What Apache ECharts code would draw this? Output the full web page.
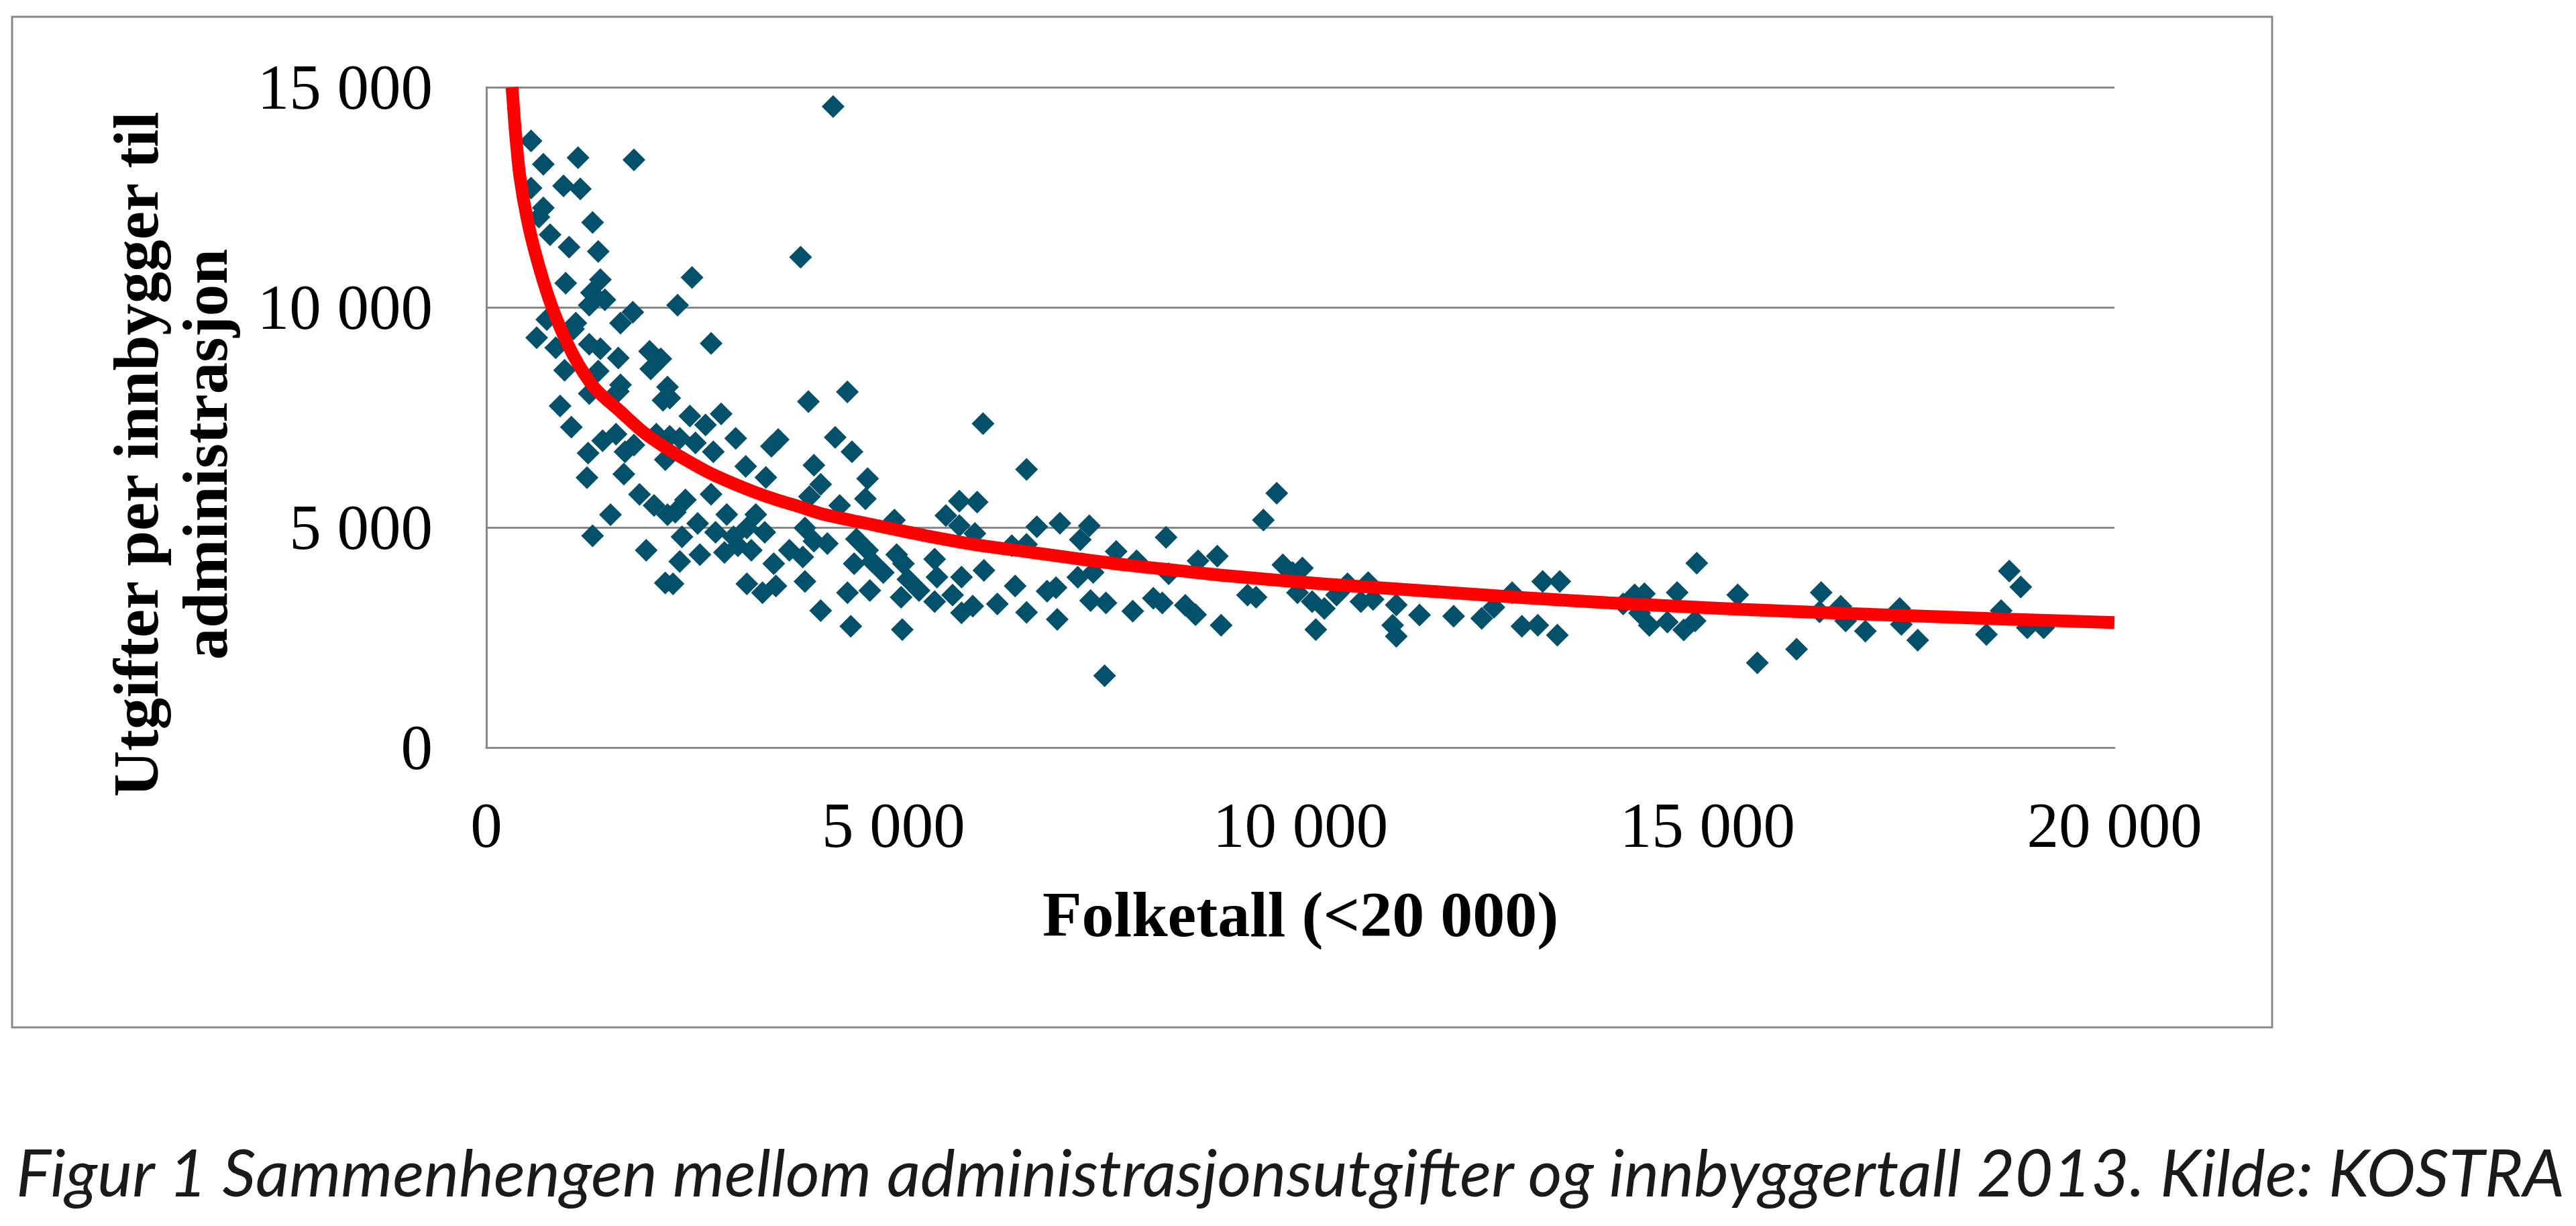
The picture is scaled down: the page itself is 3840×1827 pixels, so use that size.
<!DOCTYPE html>
<html>
<head>
<meta charset="utf-8">
<script src="https://cdn.jsdelivr.net/npm/echarts@6/dist/echarts.min.js"></script>
<style>
html,body{margin:0;padding:0;background:#fff;}
#chart{width:3840px;height:1827px;}
</style>
</head>
<body>
<div id="chart"></div>
<script>
// Folketall (population) per municipality
const population = [
549,700,1126,1813,549,948,1154,700,646,1305,783,1016,1374,3860,2527,975,1401,1291,1456,1264,2349,1799,1648,1099,618,852,1264,1401,2761,1621,2005,2143,961,1374,2019,1648,2225,1071,742,4260,
906,1264,1621,2170,2253,3956,1044,1428,1593,1250,1703,1813,2088,2253,2500,2884,2692,1236,1689,2198,1882,2060,2225,1525,1305,1964,2198,
4435,6101,6636,6762,7045,7407,7296,8350,7737,7988,8743,8979,7265,7454,8382,6636,6888,6998,7013,7422,7611,7941,8193,8303,8586,8712,9026,7595,6636,
3063,3585,3502,4285,4491,2788,2568,2376,3186,3433,4024,4107,3969,4683,4656,4340,2445,2760,5810,6029,5013,5645,5810,6002,6455,
2321,2596,2953,3310,3200,3420,2403,2815,3035,2925,3255,2623,2376,3090,3914,4189,4024,3722,3887,3530,3914,3200,3392,3557,2293,
4546,4683,4518,4738,5040,5123,4876,5178,5315,5095,4436,4711,4107,4477,5109,5507,5535,5837,6112,5507,5727,5837,5975,6277,6496,
9709,9545,9784,10024,9904,9350,9455,9964,10144,10294,10189,10444,10579,10833,10743,10893,11178,11133,11178,11463,11882,12227,12377,12601,12976,13186,12721,12916,13156,
14869,14106,14226,14628,14286,14508,14709,14849,14166,15372,15613,16095,16397,16377,16638,16698,16940,17362,17382,17583,18427,18608,18708,18849,18929,19130,13965
];
// Utgifter per innbygger til administrasjon
const costPerCapita = [
13780,13250,13400,13350,12710,12760,12690,12260,12050,11930,11650,11370,11270,11140,10680,10550,10630,10330,10170,10050,10050,9890,9640,9640,9310,9080,9160,9060,9180,8850,9000,8830,8570,8550,8600,8240,8190,9510,9720,14560,
7760,8040,8090,7890,7940,7860,7280,6970,7120,6690,6720,6870,7120,7070,7530,7580,7330,6130,6210,6540,5750,5500,5290,5290,4810,4480,3740,
8080,7360,6320,5015,5095,5040,4720,4775,4456,4240,4240,4350,3870,3977,3950,3070,3550,3630,2910,3337,3284,3097,3390,3284,3230,3017,2777,1632,4616,
7023,6997,6845,7048,6718,6718,6921,7023,6388,6134,6413,5981,5702,6108,5651,5499,5626,5753,5600,5575,5168,5270,5041,4864,4584,
5346,5092,5295,5295,4990,4889,4787,4889,4787,4432,4482,4381,4228,4584,4990,4635,4686,4482,4330,4178,3771,3720,3517,3669,3720,
4736,4482,4178,4228,4381,4178,3974,3822,3568,3415,3517,3568,3110,2755,2678,4279,3873,3873,4025,3314,3466,3060,3212,3263,3669,
5778,5168,4152,4076,3975,3466,3415,3517,3314,3161,2679,3466,3720,3746,3314,3365,3238,2780,2526,3009,2984,2933,3187,3517,3771,3771,2755,2780,2552,
4189,3468,3494,3520,2773,2850,2670,2876,3056,3468,1923,2232,3520,3082,3210,2876,2644,3159,2798,2438,2567,3108,4009,3648,2721,2721,3262
];
// Trend curve (power trendline)
const trendX = [316,357,412,508,646,824,1071,1330,1648,1923,2198,2472,2747,3022,3296,3571,3846,4120,4749,5378,6007,6636,7265,7894,8523,9058,10264,11463,12661,13780,15412,17020,18628,20000];
const trendY = [15000,13984,12968,11951,10935,9919,8903,8170,7632,7175,6819,6514,6235,6006,5803,5625,5472,5310,5060,4820,4610,4450,4290,4140,4015,3910,3720,3568,3415,3290,3140,3025,2920,2840];

const xTickLabels = ['0','5 000','10 000','15 000','20 000'];
const yTickLabels = ['0','5 000','10 000','15 000'];

const scatterData = population.map((x,i)=>[x,costPerCapita[i]]);
const trendData = trendX.map((x,i)=>[x,trendY[i]]);

const chart = echarts.init(document.getElementById('chart'), null, {renderer:'svg'});
const serif = 'Liberation Serif';
chart.setOption({
  animation:false,
  backgroundColor:'#ffffff',
  grid:{left:725,right:688,top:130,bottom:713,containLabel:false},
  xAxis:{
    type:'value',min:0,max:20000,interval:5000,
    axisLine:{show:true,lineStyle:{color:'#898989',width:3}},
    axisTick:{show:false},
    splitLine:{show:false},
    axisLabel:{margin:68,color:'#000',fontFamily:serif,fontSize:95,
      formatter:v=>xTickLabels[Math.round(v/5000)]},
    name:'Folketall (<20 000)',nameLocation:'middle',nameGap:200,
    nameTextStyle:{color:'#000',fontFamily:serif,fontWeight:'bold',fontSize:96}
  },
  yAxis:{
    type:'value',min:0,max:15000,interval:5000,
    axisLine:{show:true,lineStyle:{color:'#898989',width:3}},
    axisTick:{show:false},
    splitLine:{show:true,lineStyle:{color:'#898989',width:3}},
    axisLabel:{margin:80,color:'#000',fontFamily:serif,fontSize:95,
      formatter:v=>yTickLabels[Math.round(v/5000)]}
  },
  graphic:[
    {type:'rect',shape:{x:18,y:25,width:3369,height:1506},
     style:{fill:'none',stroke:'#898989',lineWidth:3},silent:true,z:-1},
    {type:'text',x:254,y:677,rotation:Math.PI/2,
     style:{text:'Utgifter per innbygger til\nadministrasjon',fill:'#000',
       font:'bold 95px "Liberation Serif"',textAlign:'center',textVerticalAlign:'middle',lineHeight:103}},
    {type:'text',x:24,y:1745,
     style:{text:'Figur 1 Sammenhengen mellom administrasjonsutgifter og innbyggertall 2013. Kilde: KOSTRA',
       fill:'#1a1a1a',font:'italic 98px Lato',textAlign:'left',textVerticalAlign:'middle'}}
  ],
  series:[
    {type:'scatter',data:scatterData,symbol:'diamond',symbolSize:34,
     itemStyle:{color:'#02506A',opacity:1},z:2},
    {type:'line',data:trendData,smooth:0.3,showSymbol:false,symbol:'none',
     lineStyle:{color:'#FF0000',width:19},z:3}
  ]
});
</script>
</body>
</html>
